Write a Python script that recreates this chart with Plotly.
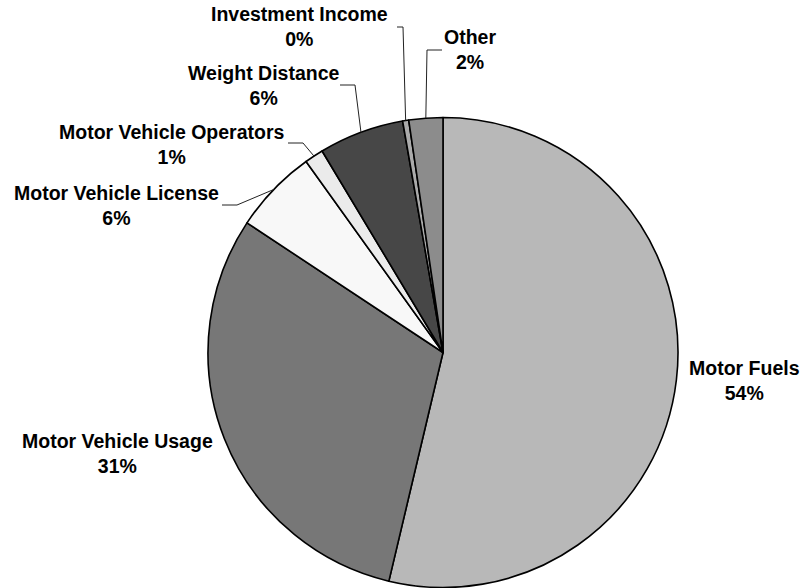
import math
import plotly.graph_objects as go

# ---- data ----
categories = ["Motor Fuels", "Motor Vehicle Usage", "Motor Vehicle License",
              "Motor Vehicle Operators", "Weight Distance", "Investment Income", "Other"]
shares = [53.7, 30.6, 5.8, 1.3, 5.85, 0.42, 2.33]

# ---- style ----
colors = ["#b8b8b8", "#777777", "#f8f8f8", "#ebebeb", "#474747", "#ababab", "#8c8c8c"]
W, H = 804, 588
CX, CY, R = 443, 352.5, 235
# label block centers (px) and leader elbows (px), None = no leader
label_pos = [(744, 380), (117, 453), (116, 205), (172, 144), (263, 85), (299, 26), (470, 49)]
elbows = [None, None, ((237, 205), (222, 205)), ((303, 143), (288, 143)),
          ((355, 85), (340, 85)), ((403, 27), (397, 27)), ((427, 50), (442, 50))]

fig = go.Figure(go.Pie(
    labels=categories, values=shares, sort=False, direction="clockwise", rotation=0,
    marker=dict(colors=colors, line=dict(color="black", width=1.6)),
    textinfo="none", hoverinfo="skip", showlegend=False,
    domain=dict(x=[(CX - R) / W, (CX + R) / W], y=[(H - CY - R) / H, (H - CY + R) / H]),
))

total = sum(shares)
font = dict(family="Liberation Sans, Arial, sans-serif", size=19.5, color="black", weight="bold")
cum = 0.0
shapes = []
annotations = []
for name, v, (lx, ly), elb in zip(categories, shares, label_pos, elbows):
    mid = (cum + v / 2) / total * 2 * math.pi
    cum += v
    pct = round(v / total * 100)
    annotations.append(dict(x=lx / W, y=1 - ly / H, xref="paper", yref="paper",
                            text=f"{name}<br>{pct}%", showarrow=False, font=font,
                            xanchor="center", yanchor="middle", align="center"))
    if elb:
        ex, ey = CX + R * math.sin(mid), CY - R * math.cos(mid)
        pts = [(ex, ey), elb[0], elb[1]]
        path = "M " + " L ".join(f"{x / W},{1 - y / H}" for x, y in pts)
        shapes.append(dict(type="path", path=path, xref="paper", yref="paper",
                           line=dict(color="#222222", width=1)))

fig.update_layout(width=W, height=H, margin=dict(l=0, r=0, t=0, b=0),
                  paper_bgcolor="white", plot_bgcolor="white",
                  shapes=shapes, annotations=annotations)
fig.write_html("out.html", config={"displayModeBar": False},
               post_script="document.body.style.margin='0';document.body.style.overflow='hidden';")
